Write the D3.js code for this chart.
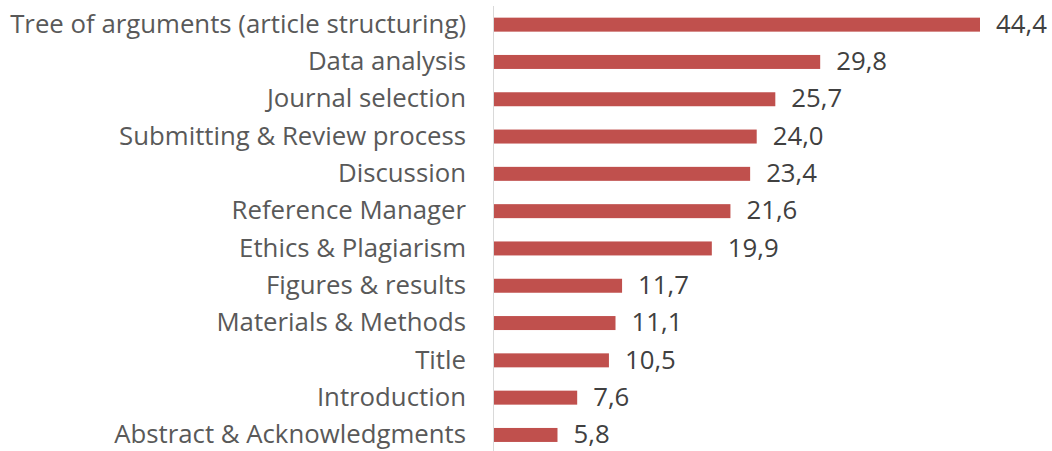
<!DOCTYPE html>
<html><head><meta charset="utf-8">
<script src="https://cdn.jsdelivr.net/npm/d3@7"></script>
<style>html,body{margin:0;padding:0;background:#fff;}svg{display:block;}</style>
</head><body>
<svg id="chart" width="1052" height="451"></svg>
<script>
const categories = ["Tree of arguments (article structuring)","Data analysis","Journal selection","Submitting & Review process","Discussion","Reference Manager","Ethics & Plagiarism","Figures & results","Materials & Methods","Title","Introduction","Abstract & Acknowledgments"];
const values = [44.4,29.8,25.7,24.0,23.4,21.6,19.9,11.7,11.1,10.5,7.6,5.8];

const svg = d3.select("#chart");
const x0 = 494;
const x = d3.scaleLinear().domain([0, 44.4]).range([x0, 980]);
const y = d3.scaleBand().domain(categories).range([6, 453.6]).paddingInner(0.625).paddingOuter(0.3125);
const font = "Open Sans, sans-serif";
const fmt = v => d3.format(".1f")(v).replace(".", ",");

svg.append("g").selectAll("rect").data(categories).join("rect")
  .attr("x", x0).attr("y", d => y(d)).attr("height", y.bandwidth())
  .attr("width", (d,i) => x(values[i]) - x0).attr("fill", "#C0504D");

svg.append("line").attr("x1", 493.5).attr("x2", 493.5).attr("y1", 6).attr("y2", 451)
  .attr("stroke", "#D9D9D9").attr("stroke-width", 1);

const labels = svg.append("g").selectAll("text").data(categories).join("text")
  .attr("x", 466).attr("y", d => y(d) + y.bandwidth()/2).attr("dy", "0.32em")
  .attr("text-anchor", "end").attr("fill", "#595959")
  .attr("font-family", font).attr("font-size", 24).text(d => d);

// fit font size so longest label spans ~456px
const longest = labels.nodes()[0].getComputedTextLength();
const fs = 24 * 456 / longest;
labels.attr("font-size", fs);

svg.append("g").selectAll("text").data(categories).join("text")
  .attr("x", (d,i) => x(values[i]) + 16).attr("y", d => y(d) + y.bandwidth()/2).attr("dy", "0.32em")
  .attr("fill", "#404040").attr("font-family", font).attr("font-size", fs)
  .text((d,i) => fmt(values[i]));
</script>
</body></html>
